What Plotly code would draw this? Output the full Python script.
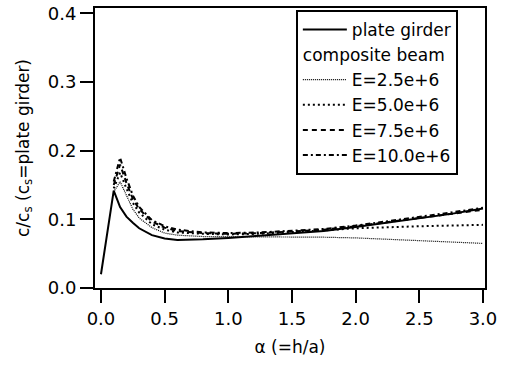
import plotly.graph_objects as go

# --- data ---
x_plate = [0, 0.1, 0.15, 0.2, 0.25, 0.3, 0.4, 0.5, 0.6, 0.7, 0.8, 1.0, 1.25, 1.5, 1.75, 2.0, 2.25, 2.5, 2.75, 3.0]
y_plate = [0.02, 0.142, 0.118, 0.104, 0.095, 0.087, 0.077, 0.072, 0.070, 0.070, 0.071, 0.073, 0.076, 0.079, 0.083, 0.089, 0.095, 0.101, 0.108, 0.116]

x_comp = [0.1, 0.15, 0.2, 0.25, 0.3, 0.4, 0.5, 0.6, 0.8, 1.0, 1.25, 1.5, 1.75, 2.0, 2.25, 2.5, 2.75, 3.0]
y_e25 = [0.14, 0.155, 0.135, 0.115, 0.102, 0.088, 0.080, 0.077, 0.075, 0.075, 0.075, 0.075, 0.074, 0.073, 0.071, 0.069, 0.067, 0.065]
y_e50 = [0.145, 0.168, 0.145, 0.124, 0.110, 0.093, 0.085, 0.081, 0.079, 0.078, 0.079, 0.081, 0.084, 0.087, 0.089, 0.090, 0.091, 0.092]
y_e75 = [0.15, 0.18, 0.153, 0.130, 0.115, 0.097, 0.088, 0.083, 0.080, 0.079, 0.080, 0.082, 0.085, 0.090, 0.096, 0.102, 0.108, 0.114]
y_e100 = [0.155, 0.19, 0.160, 0.135, 0.118, 0.099, 0.090, 0.085, 0.081, 0.080, 0.081, 0.083, 0.086, 0.091, 0.097, 0.103, 0.110, 0.117]

x_ticks = [0.0, 0.5, 1.0, 1.5, 2.0, 2.5, 3.0]
x_tick_labels = ["0.0", "0.5", "1.0", "1.5", "2.0", "2.5", "3.0"]
y_ticks = [0.0, 0.1, 0.2, 0.3, 0.4]
y_tick_labels = ["0.0", "0.1", "0.2", "0.3", "0.4"]

FONT = "DejaVu Sans"

fig = go.Figure()
fig.add_trace(go.Scatter(x=x_plate, y=y_plate, mode="lines", name="plate girder",
                         line=dict(color="black", width=2), legendgroup="a"))
comp = [
    ("E=2.5e+6", y_e25, dict(color="black", width=1.2, dash="1px,1px")),
    ("E=5.0e+6", y_e50, dict(color="black", width=2, dash="2px,3px")),
    ("E=7.5e+6", y_e75, dict(color="black", width=2, dash="5px,4px")),
    ("E=10.0e+6", y_e100, dict(color="black", width=2, dash="5px,3px,2px,3px")),
]
for i, (name, ys, ln) in enumerate(comp):
    tr = dict(x=x_comp, y=ys, mode="lines", name=name, line=ln, legendgroup="b")
    if i == 0:
        tr["legendgrouptitle"] = dict(text="composite beam", font=dict(family=FONT, size=17, color="black"))
    fig.add_trace(go.Scatter(**tr))

fig.update_layout(
    width=508, height=367,
    margin=dict(l=95, r=23, t=8, b=79, autoexpand=False),
    paper_bgcolor="white", plot_bgcolor="white",
    font=dict(family=FONT, size=18, color="black"),
    showlegend=True,
    legend=dict(x=0.515, y=0.993, xanchor="left", yanchor="top",
                bordercolor="black", borderwidth=2, bgcolor="white",
                traceorder="grouped", tracegroupgap=0, itemwidth=44,
                font=dict(family=FONT, size=17, color="black")),
    xaxis=dict(range=[-0.047, 3.016], tickvals=x_ticks, ticktext=x_tick_labels,
               automargin=False,
               showgrid=False, zeroline=False, showline=True, linecolor="black", linewidth=2,
               mirror=True, ticks="outside", ticklen=13, tickwidth=2, tickcolor="black",
               tickfont=dict(size=18),
               title=dict(text="α (=h/a)", font=dict(family=FONT, size=17), standoff=14)),
    yaxis=dict(range=[0, 0.408], tickvals=y_ticks, ticktext=y_tick_labels,
               automargin=False,
               showgrid=False, zeroline=False, showline=True, linecolor="black", linewidth=2,
               mirror=True, ticks="outside", ticklen=13, tickwidth=2, tickcolor="black",
               tickfont=dict(size=18),
               title=dict(text="c/c<sub>s</sub> (c<sub>s</sub>=plate girder)", font=dict(family=FONT, size=17), standoff=14)),
)

fig.write_html("out.html", config={"displayModeBar": False},
               post_script="document.body.style.margin='0';document.body.style.overflow='hidden';")
